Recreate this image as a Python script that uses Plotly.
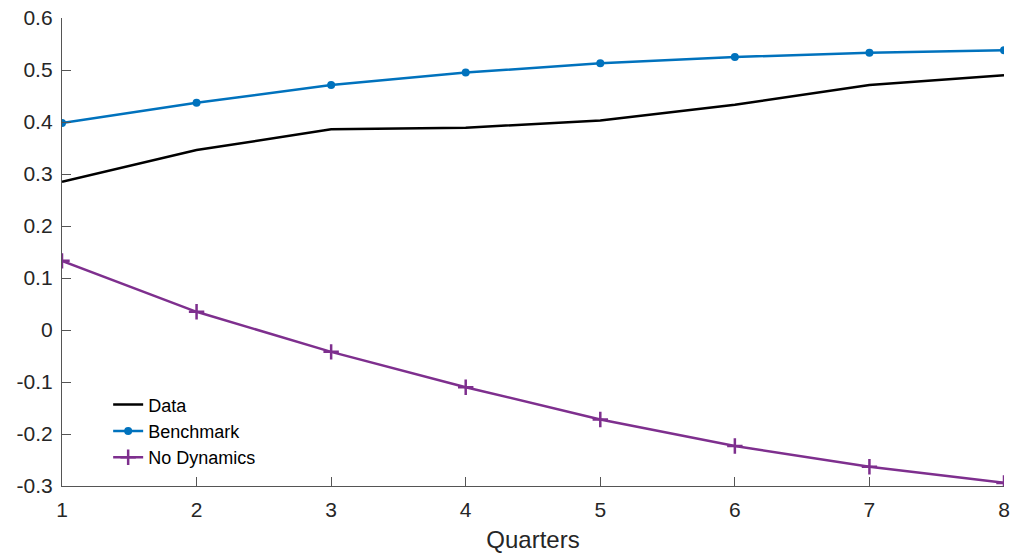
import plotly.graph_objects as go

quarters = [1, 2, 3, 4, 5, 6, 7, 8]
data_vals = [0.285, 0.346, 0.386, 0.389, 0.403, 0.433, 0.471, 0.490]
benchmark_vals = [0.398, 0.437, 0.471, 0.495, 0.513, 0.525, 0.533, 0.538]
nodyn_vals = [0.133, 0.035, -0.042, -0.110, -0.172, -0.223, -0.263, -0.294]
y_ticks = [-0.3, -0.2, -0.1, 0, 0.1, 0.2, 0.3, 0.4, 0.5, 0.6]
y_tick_text = ["-0.3", "-0.2", "-0.1", "0", "0.1", "0.2", "0.3", "0.4", "0.5", "0.6"]

FONT = "Liberation Sans, Arial, Helvetica, sans-serif"

fig = go.Figure()
fig.add_trace(go.Scatter(x=quarters, y=data_vals, mode="lines", name="Data",
                         line=dict(color="#000000", width=2.5)))
fig.add_trace(go.Scatter(x=quarters, y=benchmark_vals, mode="lines+markers", name="Benchmark",
                         line=dict(color="#0072BD", width=2.5),
                         marker=dict(symbol="circle", size=8, color="#0072BD")))
fig.add_trace(go.Scatter(x=quarters, y=nodyn_vals, mode="lines+markers", name="No Dynamics",
                         line=dict(color="#7E2F8E", width=2.5),
                         marker=dict(symbol="cross-thin", size=11,
                                     line=dict(color="#7E2F8E", width=2.5))))

fig.update_layout(
    width=1013, height=554,
    margin=dict(l=62, r=9, t=18, b=68, autoexpand=False),
    paper_bgcolor="white", plot_bgcolor="white",
    font=dict(family=FONT, color="#262626", size=21),
    showlegend=True,
    legend=dict(x=0.049, y=0.213, xanchor="left", yanchor="top",
                bgcolor="rgba(0,0,0,0)", font=dict(size=18, color="#000000"),
                tracegroupgap=0, itemwidth=30),
)
fig.update_xaxes(range=[1, 8], tickvals=quarters, ticks="inside", ticklen=9,
                 tickcolor="#555555", showline=True, linecolor="#555555", linewidth=1.3,
                 showgrid=False, zeroline=False, tickfont=dict(size=21),
                 ticklabelstandoff=5, automargin=False,
                 title=dict(text="Quarters", font=dict(size=24), standoff=10))
fig.update_yaxes(range=[-0.3, 0.6], tickvals=y_ticks, ticktext=y_tick_text, ticks="inside",
                 ticklen=9, tickcolor="#555555", showline=True, linecolor="#555555",
                 linewidth=1.3, showgrid=False, zeroline=False, tickfont=dict(size=21),
                 ticklabelstandoff=4, automargin=False)

fig.write_html("out.html")
